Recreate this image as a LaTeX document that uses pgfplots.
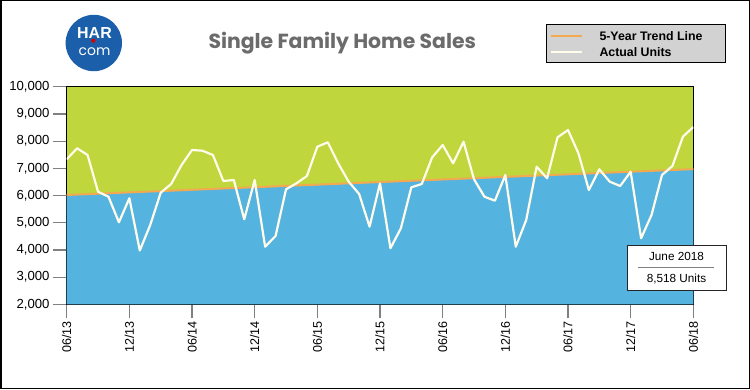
\documentclass[border=0pt]{standalone}
\usepackage{pgfplots}
\pgfplotsset{compat=1.18}
\usepackage{fontspec}
\setmainfont{Liberation Sans}
\newfontfamily\titlefont{Poppins}
\definecolor{cgreen}{HTML}{BFD63C}
\definecolor{cblue}{HTML}{55B4DF}
\definecolor{corange}{HTML}{F2A950}
\definecolor{cwhite}{HTML}{FFFCEC}
\definecolor{ctitle}{HTML}{6B6B6B}
\definecolor{clogo}{HTML}{1B5EA9}
\definecolor{clegend}{HTML}{D2D2D2}
\begin{document}
\begin{tikzpicture}[x=1bp,y=1bp]
\path[use as bounding box] (0,0) rectangle (750,389);
\fill[white] (0,0) rectangle (750,389);
\begin{axis}[
  at={(66.7bp,84.7bp)}, anchor=south west,
  scale only axis, width=626.6bp, height=217.6bp,
  xmin=0, xmax=60, ymin=2000, ymax=10000,
  axis background/.style={fill=cgreen},
  axis line style={black, line width=0.8bp},
  tick pos=left, tick align=outside,
  major tick length=14bp,
  every tick/.style={gray, line width=1.2bp},
  xtick={0,6,...,60},
  xticklabels={06/13,12/13,06/14,12/14,06/15,12/15,06/16,12/16,06/17,12/17,06/18},
  ytick={2000,3000,...,10000},
  scaled y ticks=false,
  /pgf/number format/assume math mode=true,
  yticklabel style={font=\fontsize{13.2}{15}\selectfont, inner sep=3bp,
    /pgf/number format/fixed, /pgf/number format/precision=0, /pgf/number format/1000 sep={,}},
  xticklabel style={font=\fontsize{12.6}{15}\selectfont, rotate=90, anchor=east, inner sep=3bp},
  clip=true,
]
\addplot[fill=cblue, draw=none] coordinates {(0,6020) (60,6970)} \closedcycle;
\addplot[corange, line width=2bp] coordinates {(0,6020) (60,6970)};
\addplot[cwhite, line width=2.2bp, line join=round] coordinates {
(0,7331)(1,7736)(2,7489)(3,6140)(4,5956)(5,5015)(6,5898)(7,3980)(8,4916)(9,6103)
(10,6423)(11,7122)(12,7673)(13,7647)(14,7489)(15,6534)(16,6570)(17,5126)(18,6570)(19,4118)
(20,4512)(21,6228)(22,6449)(23,6717)(24,7794)(25,7956)(26,7184)(27,6508)(28,6056)(29,4854)
(30,6449)(31,4060)(32,4795)(33,6302)(34,6423)(35,7405)(36,7857)(37,7184)(38,7978)(39,6596)
(40,5956)(41,5809)(42,6754)(43,4118)(44,5100)(45,7059)(46,6633)(47,8140)(48,8408)(49,7552)
(50,6203)(51,6964)(52,6508)(53,6350)(54,6875)(55,4427)(56,5284)(57,6754)(58,7085)(59,8162)
(60,8518)};
\end{axis}
% outer border
\draw[black, line width=1.5bp] (0.75,0.75) rectangle (749.25,388.25);
% logo
\fill[clogo] (93.8,346) circle (28.2);
\node[white, font=\fontsize{16}{16}\selectfont\bfseries, anchor=base] at (94.5,351) {HAR};
\fill[red!85!black] (93.3,348.3) circle (2.1);
\node[white, font=\titlefont\fontsize{14}{14}\selectfont, anchor=base] at (94.5,334) {com};
% title
\node[ctitle, anchor=base west, inner sep=0pt] at (208.3,340.7) {\resizebox{267.5bp}{!}{\titlefont\bfseries Single Family Home Sales}};
% legend
\draw[black, line width=1bp, fill=clegend] (546,326.7) rectangle (725.7,364);
\draw[corange, line width=2bp] (550.7,353.3) -- (582.3,353.3);
\draw[cwhite, line width=2bp] (550.7,337.3) -- (582.3,337.3);
\node[anchor=base west, inner sep=0pt, font=\fontsize{12.4}{14}\selectfont\bfseries] at (599.3,348.3) {5-Year Trend Line};
\node[anchor=base west, inner sep=0pt, font=\fontsize{12.4}{14}\selectfont\bfseries] at (599.3,333) {Actual Units};
% annotation
\draw[black!85, line width=1bp, fill=white] (627.3,99) rectangle (726,144);
\draw[gray, line width=1.2bp] (638,121.3) -- (714,121.3);
\node[anchor=base, inner sep=0pt, font=\fontsize{11.8}{14}\selectfont] at (676.5,128.3) {June 2018};
\node[anchor=base, inner sep=0pt, font=\fontsize{11.8}{14}\selectfont] at (676.5,106.3) {8,518 Units};
\end{tikzpicture}
\end{document}
